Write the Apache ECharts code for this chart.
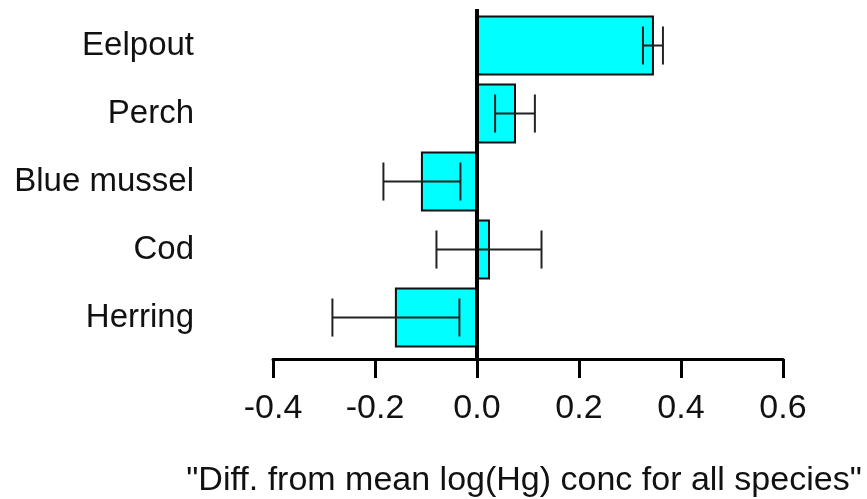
<!DOCTYPE html>
<html>
<head>
<meta charset="utf-8">
<script src="https://cdn.jsdelivr.net/npm/echarts@6/dist/echarts.min.js"></script>
<style>
  html, body { margin: 0; padding: 0; background: #fff; }
  #chart { width: 867px; height: 499px; }
</style>
</head>
<body>
<div id="chart"></div>
<script>
// species listed top to bottom
const species = ['Eelpout', 'Perch', 'Blue mussel', 'Cod', 'Herring'];
const diffs = [0.345, 0.0745, -0.108, 0.0235, -0.159];
const errs = [0.0196, 0.039, 0.0755, 0.103, 0.1245];
const xTicks = [-0.4, -0.2, 0.0, 0.2, 0.4, 0.6];

const FONT = "'Liberation Sans', Arial, sans-serif";

const chart = echarts.init(document.getElementById('chart'), null, { renderer: 'canvas' });

const rows = species.map((s, i) => [diffs[i], i, errs[i]]);

function renderItem(params, api) {
  const v = api.value(0);
  const i = api.value(1);
  const e = api.value(2);
  const base = api.coord([0, i]);
  const end = api.coord([v, i]);
  const lo = api.coord([v - e, i]);
  const hi = api.coord([v + e, i]);
  const band = api.size([0, 1])[1];
  const h = band * 0.85;
  const cap = band * 0.28;
  const errStyle = { stroke: '#222', lineWidth: 2 };
  return {
    type: 'group',
    children: [
      {
        type: 'rect',
        shape: { x: Math.min(base[0], end[0]), y: base[1] - h / 2, width: Math.abs(end[0] - base[0]), height: h },
        style: { fill: '#00ffff', stroke: '#111', lineWidth: 2 }
      },
      { type: 'line', shape: { x1: lo[0], y1: lo[1], x2: hi[0], y2: hi[1] }, style: errStyle },
      { type: 'line', shape: { x1: lo[0], y1: lo[1] - cap, x2: lo[0], y2: lo[1] + cap }, style: errStyle },
      { type: 'line', shape: { x1: hi[0], y1: hi[1] - cap, x2: hi[0], y2: hi[1] + cap }, style: errStyle }
    ]
  };
}

chart.setOption({
  backgroundColor: '#fff',
  animation: false,
  grid: { left: 273, right: 84, top: 9, bottom: 140, outerBoundsMode: 'none' },
  xAxis: {
    type: 'value',
    min: xTicks[0],
    max: xTicks[xTicks.length - 1],
    interval: 0.2,
    axisLine: { onZero: false, lineStyle: { color: '#000', width: 3 } },
    axisTick: { length: 19, lineStyle: { color: '#000', width: 3 } },
    axisLabel: {
      margin: 33,
      color: '#111',
      fontSize: 34,
      fontFamily: FONT,
      formatter: (v) => v.toFixed(1)
    },
    splitLine: { show: false },
    name: '"Diff. from mean log(Hg) conc for all species"',
    nameLocation: 'middle',
    nameGap: 105,
    nameTextStyle: { color: '#111', fontSize: 34, fontFamily: FONT, padding: [0, 8, 0, 0] }
  },
  yAxis: {
    type: 'value',
    inverse: true,
    min: -0.537,
    max: 4.61,
    axisLine: { show: false, onZero: false },
    axisTick: { show: false },
    splitLine: { show: false },
    axisLabel: {
      customValues: [0, 1, 2, 3, 4],
      margin: 79,
      color: '#111',
      fontSize: 33,
      fontFamily: FONT,
      formatter: (v) => species[v]
    }
  },
  series: [
    {
      type: 'custom',
      renderItem: renderItem,
      encode: { x: 0, y: 1 },
      data: rows,
      z: 2
    },
    {
      // zero reference line
      type: 'line',
      data: [],
      z: 5,
      markLine: {
        silent: true,
        symbol: 'none',
        label: { show: false },
        lineStyle: { color: '#000', width: 4, type: 'solid' },
        data: [{ xAxis: 0 }]
      }
    }
  ]
});
</script>
</body>
</html>
